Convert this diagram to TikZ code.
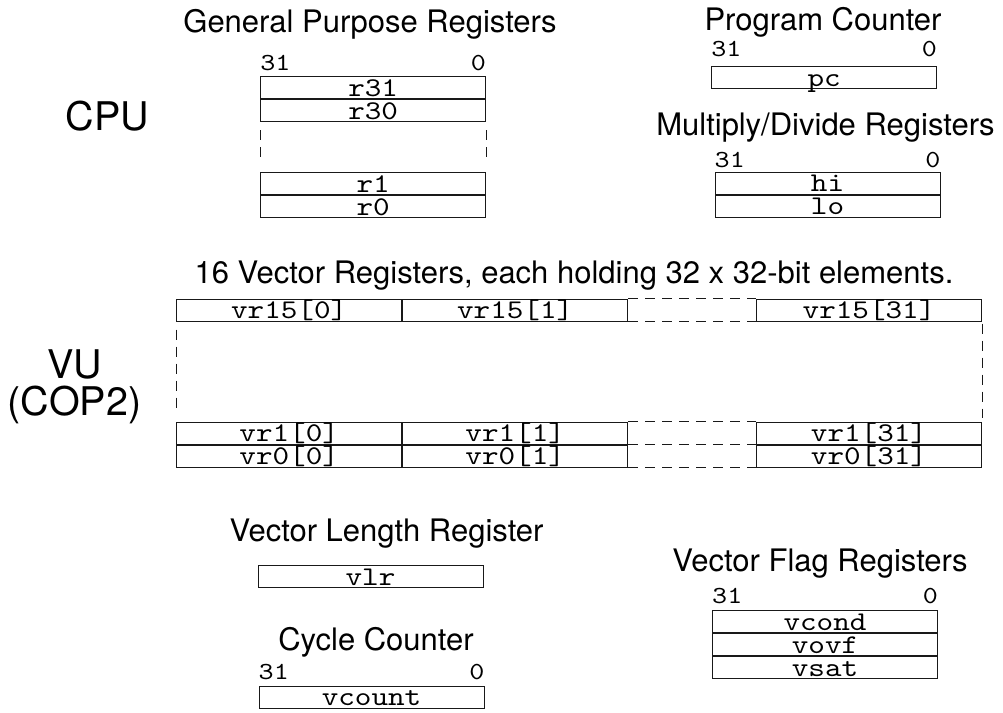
\documentclass[tikz,border=0pt]{standalone}
\usepackage{fontspec}
\setmainfont{TeX Gyre Heros}
\setmonofont{lmmono10-regular.otf}[FakeStretch=1.17]
\usetikzlibrary{positioning}
\tikzset{
  regbox/.style={draw=black!90,line width=1pt,rectangle,inner sep=0pt,
    minimum width=225pt,minimum height=22pt,text height=17pt,text depth=0pt,
    font=\ttfamily\fontsize{27}{27}\selectfont},
  bitlabel/.style={inner sep=0pt,font=\ttfamily\fontsize{24.5}{24.5}\selectfont},
  regtitle/.style={inner sep=0pt,font=\fontsize{31}{31}\selectfont},
  unitlabel/.style={inner sep=0pt,font=\fontsize{39.5}{39.5}\selectfont},
  contline/.style={draw=black!90,line width=1pt,dash pattern=on 10pt off 7pt},
}

\begin{document}
\begin{tikzpicture}[x=1pt,y=-1pt]
  \useasboundingbox (0,0) rectangle (1003,712);
  % CPU registers
  \node[unitlabel,anchor=base] (cpu) at (107.5,130) {CPU};
  \node[regtitle,anchor=base] (gprtitle) at (370,32) {General Purpose Registers};
  \node[regbox] (r31) at (373.2,87.7) {r31};
  \node[regbox,below=0pt of r31] (r30) {r30};
  \node[regbox] (r1) at (373.2,183.7) {r1};
  \node[regbox,below=0pt of r1] (r0) {r0};
  \node[bitlabel,anchor=base west] (gprmsb) at ([yshift=6pt]r31.north west) {31};
  \node[bitlabel,anchor=base east] (gprlsb) at ([yshift=6pt]r31.north east) {0};
  \draw[contline,shorten <=8pt,shorten >=8pt] (r30.south west) -- (r1.north west);
  \draw[contline,shorten <=8pt,shorten >=8pt] (r30.south east) -- (r1.north east);

  \node[regtitle,anchor=base] (pctitle) at (823,30) {Program Counter};
  \node[regbox] (pc) at (824.2,77.7) {pc};
  \node[bitlabel,anchor=base west] (pcmsb) at ([yshift=9.7pt]pc.north west) {31};
  \node[bitlabel,anchor=base east] (pclsb) at ([yshift=9.7pt]pc.north east) {0};

  \node[regtitle,anchor=base] (mdtitle) at (825.5,135) {Multiply/Divide Registers};
  \node[regbox] (hi) at (827.5,183.3) {hi};
  \node[regbox,below=0pt of hi] (lo) {lo};
  \node[bitlabel,anchor=base west] (himsb) at ([yshift=4.3pt]hi.north west) {31};
  \node[bitlabel,anchor=base east] (hilsb) at ([yshift=4.3pt]hi.north east) {0};

  % vector unit
  \node[unitlabel,anchor=base] (vu) at (74.5,378) {VU};
  \node[unitlabel,anchor=base] (cop) at (74.5,415) {(COP2)};
  \node[regtitle,anchor=base] (vrtitle) at (574,283) {16 Vector Registers, each holding 32 x 32-bit elements.};
  \node[regbox] (v15c0) at (289.2,310) {vr15[0]};
  \node[regbox,right=0pt of v15c0] (v15c1) {vr15[1]};
  \node[regbox] (v15c31) at (869,310) {vr15[31]};
  \node[regbox] (v1c0) at (289.2,433) {vr1[0]};
  \node[regbox,right=0pt of v1c0] (v1c1) {vr1[1]};
  \node[regbox] (v1c31) at (869,433) {vr1[31]};
  \node[regbox,below=0pt of v1c0] (v0c0) {vr0[0]};
  \node[regbox,below=0pt of v1c1] (v0c1) {vr0[1]};
  \node[regbox,below=0pt of v1c31] (v0c31) {vr0[31]};
  \draw[contline] (v15c1.north east) -- (v15c31.north west);
  \draw[contline] (v15c1.south east) -- (v15c31.south west);
  \draw[contline] (v1c1.north east) -- (v1c31.north west);
  \draw[contline] (v0c1.north east) -- (v0c31.north west);
  \draw[contline] (v0c1.south east) -- (v0c31.south west);
  \draw[contline,shorten <=8pt,shorten >=8pt] (v15c0.south west) -- (v1c0.north west);
  \draw[contline,shorten <=2pt,shorten >=4pt] (v15c31.south east) -- (v1c31.north east);

  \node[regtitle,anchor=base] (vlrtitle) at (386.5,541) {Vector Length Register};
  \node[regbox] (vlr) at (370.5,576.7) {vlr};

  \node[regtitle,anchor=base] (cyctitle) at (376,650) {Cycle Counter};
  \node[regbox] (vcount) at (371.5,697) {vcount};
  \node[bitlabel,anchor=base west] (cycmsb) at ([yshift=6pt]vcount.north west) {31};
  \node[bitlabel,anchor=base east] (cyclsb) at ([yshift=6pt]vcount.north east) {0};

  \node[regtitle,anchor=base] (flagtitle) at (820,571) {Vector Flag Registers};
  \node[regbox] (vcond) at (825,621.7) {vcond};
  \node[regbox,below=0pt of vcond] (vovf) {vovf};
  \node[regbox,below=0pt of vovf] (vsat) {vsat};
  \node[bitlabel,anchor=base west] (flagmsb) at ([yshift=6.7pt]vcond.north west) {31};
  \node[bitlabel,anchor=base east] (flaglsb) at ([yshift=6.7pt]vcond.north east) {0};
\end{tikzpicture}
\end{document}
